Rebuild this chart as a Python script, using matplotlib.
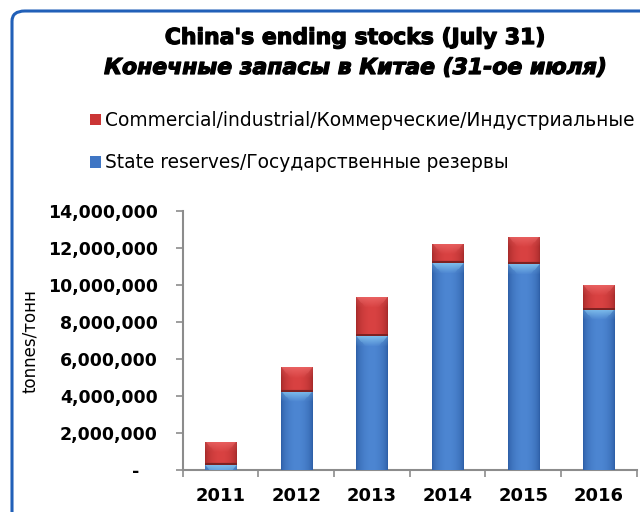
import matplotlib
matplotlib.use("Agg")
import matplotlib.pyplot as plt
import matplotlib.patheffects as pe
import numpy as np
from matplotlib.patches import FancyBboxPatch
from matplotlib.ticker import FuncFormatter
from matplotlib.colors import to_rgb

years = ["2011", "2012", "2013", "2014", "2015", "2016"]
state_reserves = [270000, 4230000, 7240000, 11170000, 11120000, 8650000]
commercial = [1260000, 1320000, 2090000, 1030000, 1460000, 1330000]

plt.rcParams['font.family'] = ['DejaVu Sans']

W, H = 640, 512
fig = plt.figure(figsize=(W / 100, H / 100), dpi=100)
fig.patch.set_facecolor("white")

# rounded blue frame around the chart
frame = FancyBboxPatch((12 / W, -0.02), 1.2, 1 - 11 / H + 0.02,
                       boxstyle="round,pad=0,rounding_size=0.02",
                       transform=fig.transFigure, facecolor="none", edgecolor="#2160B8",
                       linewidth=2.2, zorder=5)
fig.patches.append(frame)

heavy = [pe.withStroke(linewidth=0.9, foreground="black")]
fig.text(0.556, 1 - 38 / H, "China's ending stocks (July 31)", ha="center", va="center",
         fontsize=15.8, fontweight="bold", path_effects=heavy)
fig.text(0.556, 1 - 68 / H, "Конечные запасы в Китае (31-ое июля)", ha="center", va="center",
         fontsize=15.8, fontweight="bold", style="italic", path_effects=heavy)

ax = fig.add_axes([182.7 / W, 1 - 470 / H, (636.7 - 182.7) / W, (470 - 211) / H])
x = np.arange(len(years))
w = 0.41
blue_label = "State reserves/Государственные резервы"
red_label = "Commercial/industrial/Коммерческие/Индустриальные"
b1 = ax.bar(x, state_reserves, w, color="#3F76C4", linewidth=0, label=blue_label, zorder=2)
b2 = ax.bar(x, commercial, w, bottom=state_reserves, color="#CB3535", linewidth=0,
            label=red_label, zorder=2)

ax.set_xlim(-0.5, len(years) - 0.5)
ax.set_ylim(0, 14000000)


def shade_bar(patch, mid, edge, top, bottom_line=None):
    """Fill a bar with a glossy horizontal gradient and a lighter bevel on top."""
    bx, by = patch.get_x(), patch.get_y()
    bw, bh = patch.get_width(), patch.get_height()
    if bh <= 0:
        return
    px_per_unit = (470 - 211) / 14000000
    rows = max(int(round(bh * px_per_unit)), 2)
    cols = 40
    t = np.linspace(0, 1, cols)
    prof = np.sin(np.pi * t) ** 0.6
    mid, edge, top = map(np.array, (to_rgb(mid), to_rgb(edge), to_rgb(top)))
    row_cols = edge[None, :] + (mid - edge)[None, :] * prof[:, None]
    img = np.repeat(row_cols[None, :, :], rows, axis=0)
    # bevel: lighter band at the top, narrowing toward the middle
    bev = 10
    dist = np.abs(t - 0.5) * 2
    for r in range(min(bev, rows)):
        depth = r / bev
        a = np.where(dist < 1 - depth * 0.6, (1 - depth) * 0.85, (1 - depth) * 0.35)
        img[rows - 1 - r] = img[rows - 1 - r] * (1 - a[:, None]) + top[None, :] * a[:, None]
    if bottom_line is not None:
        img[0:2] = np.array(to_rgb(bottom_line))
    im = ax.imshow(img, extent=(bx, bx + bw, by, by + bh), origin="lower",
                   aspect="auto", interpolation="bilinear", zorder=3)
    im.set_clip_path(patch)


for p in b1:
    shade_bar(p, "#4D86D2", "#2D5EA6", "#86C6F0")
for p in b2:
    shade_bar(p, "#D94242", "#A52A2A", "#EC6666", bottom_line="#7E2222")

ax.set_xlim(-0.5, len(years) - 0.5)
ax.set_ylim(0, 14000000)
ax.set_yticks(np.arange(0, 14000001, 2000000))
ax.yaxis.set_major_formatter(FuncFormatter(lambda v, p: "-   " if v == 0 else f"{int(v):,}"))
ax.set_xticks(x)
ax.set_xticklabels(years)
ax.set_xticks(np.arange(-0.5, len(years), 1), minor=True)
ax.tick_params(axis="x", which="major", length=0, labelsize=13, pad=12)
ax.tick_params(axis="x", which="minor", length=5, color="#8C8C8C", width=1.2)
ax.tick_params(axis="y", length=5, color="#8C8C8C", width=1.2, labelsize=12.5, pad=13)
for lab in ax.get_xticklabels() + ax.get_yticklabels():
    lab.set_fontweight("bold")
for s in ["top", "right"]:
    ax.spines[s].set_visible(False)
for s in ["left", "bottom"]:
    ax.spines[s].set_color("#8C8C8C")
    ax.spines[s].set_linewidth(1.5)

fig.text(30 / W, 1 - 341 / H, "tonnes/тонн", rotation=90, ha="center", va="center",
         fontsize=12)

handles = [b2, b1]
leg = fig.legend(handles=handles, labels=[red_label, blue_label],
                 loc="upper left", bbox_to_anchor=(90 / W, 1 - 111 / H), frameon=False,
                 fontsize=13.4, handlelength=0.6, handleheight=0.6, handletextpad=0.2,
                 labelspacing=1.25, borderaxespad=0, borderpad=0)

fig.savefig("out.png", dpi=100)
